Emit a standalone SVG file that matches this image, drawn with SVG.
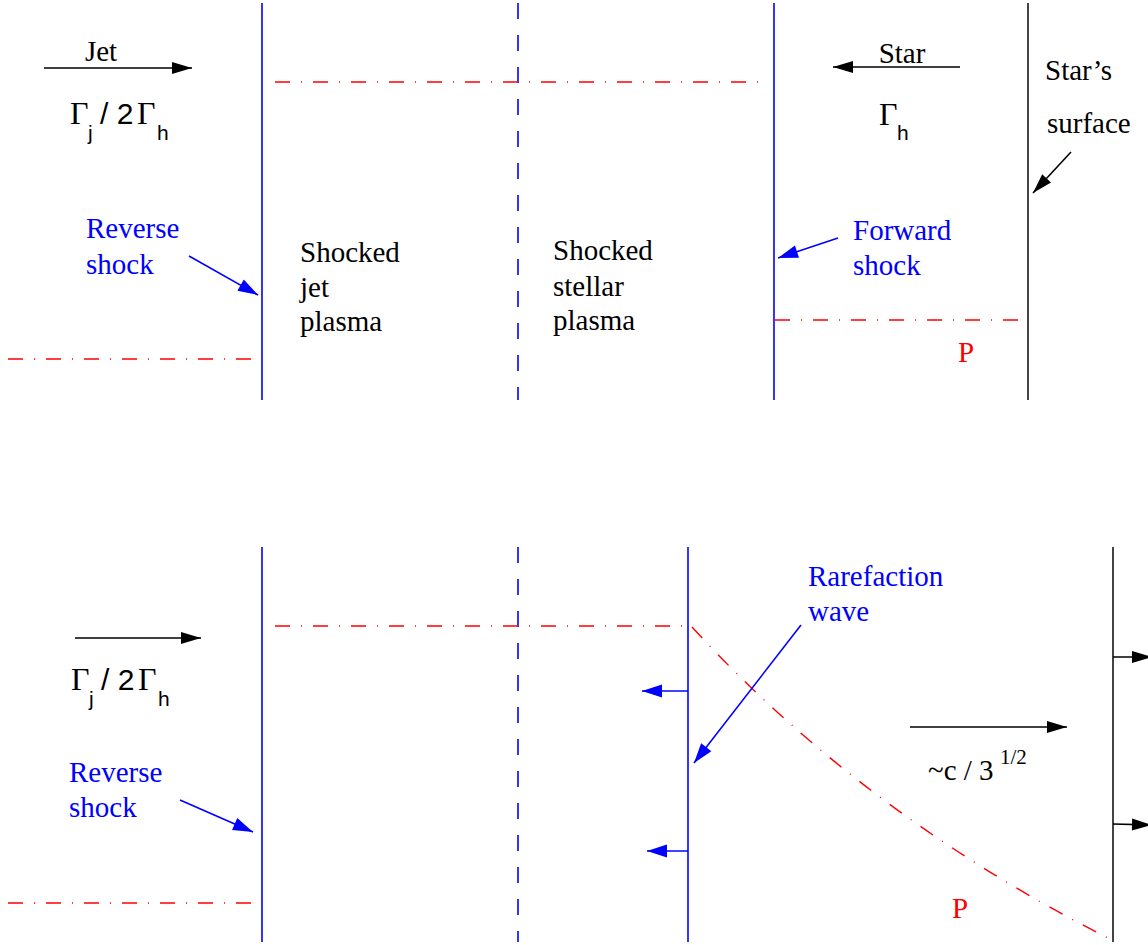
<svg xmlns="http://www.w3.org/2000/svg" width="1148" height="945" viewBox="0 0 1148 945">
<defs>
<style>
.bl{stroke:#0000ff;stroke-width:1.6;fill:none}
.bd{stroke:#0000ff;stroke-width:1.6;fill:none;stroke-dasharray:16 16}
.bk{stroke:#444444;stroke-width:2;fill:none}
.rd{stroke:#ff0000;stroke-width:1.4;fill:none;stroke-dasharray:15 11 1 11}
.ak{stroke:#000000;stroke-width:1.6;fill:none;marker-end:url(#mk)}
.ab{stroke:#0000ff;stroke-width:1.6;fill:none;marker-end:url(#mb)}
.s{font-family:"Liberation Serif","Times New Roman",Times,serif;font-size:29px}
.n{font-family:"Liberation Sans",Arial,Helvetica,sans-serif}
.g{font-size:32px}
.sub{font-size:21px}
.tb{fill:#0000ff}
.tr{fill:#ff0000}
.tk{fill:#000000}
</style>
<marker id="mk" markerUnits="userSpaceOnUse" markerWidth="22" markerHeight="16" refX="20" refY="8" orient="auto" overflow="visible"><path d="M0,2 L20,8 L0,14 z" fill="#000000"/></marker>
<marker id="mb" markerUnits="userSpaceOnUse" markerWidth="22" markerHeight="16" refX="20" refY="8" orient="auto" overflow="visible"><path d="M0,1.5 L20,8 L0,14.5 z" fill="#0000ff"/></marker>
</defs>
<g id="lines">
<line class="bl" x1="262" y1="3" x2="262" y2="400"/>
<line class="bd" x1="518" y1="3" x2="518" y2="400"/>
<line class="bl" x1="774" y1="3" x2="774" y2="400"/>
<line class="bk" x1="1028" y1="3" x2="1028" y2="400"/>
<line class="rd" x1="275" y1="82" x2="768" y2="82"/>
<line class="rd" x1="8" y1="359" x2="262" y2="359"/>
<line class="rd" x1="775" y1="320" x2="1028" y2="320"/>
<line class="bl" x1="262" y1="547" x2="262" y2="942"/>
<line class="bd" x1="518" y1="547" x2="518" y2="942"/>
<line class="bl" x1="688" y1="547" x2="688" y2="942"/>
<line class="bk" x1="1113" y1="547" x2="1113" y2="942"/>
<line class="rd" x1="275" y1="626" x2="688" y2="626"/>
<line class="rd" x1="8" y1="903" x2="262" y2="903"/>
<path class="rd" d="M692,627 Q865,816 1112,940"/>
</g>
<g id="connectors">
<line class="ak" x1="44" y1="68" x2="192" y2="68"/>
<line class="ak" x1="960" y1="67" x2="833" y2="67"/>
<line class="ak" x1="1071" y1="152" x2="1033" y2="193"/>
<line class="ab" x1="189" y1="256" x2="258" y2="295"/>
<line class="ab" x1="838" y1="238" x2="778" y2="258"/>
<line class="ak" x1="75" y1="638" x2="201" y2="638"/>
<line class="ab" x1="801" y1="625" x2="694" y2="763"/>
<line class="ab" x1="688" y1="691" x2="642" y2="691"/>
<line class="ab" x1="688" y1="851" x2="647" y2="851"/>
<line class="ak" x1="910" y1="727" x2="1067" y2="727"/>
<line class="ak" x1="1113" y1="657" x2="1152" y2="657"/>
<line class="ak" x1="1113" y1="824" x2="1152" y2="825"/>
<line class="ab" x1="180" y1="800" x2="253" y2="832"/>
</g>
<g id="jet-top">
<text class="s tk" x="101" y="61" text-anchor="middle" font-size="30">Jet</text>
<text class="s g tk" x="70" y="124">Γ</text><text class="n sub tk" x="88" y="140">j</text>
<text class="n tk" x="100" y="124" font-size="30">/ 2</text>
<text class="s g tk" x="137" y="124">Γ</text><text class="n sub tk" x="157" y="140">h</text>
</g>
<g id="star-top">
<text class="s tk" x="902" y="63" text-anchor="middle" font-size="30">Star</text>
<text class="s g tk" x="879" y="125">Γ</text><text class="n sub tk" x="897" y="140">h</text>
</g>
<g id="surface">
<text class="s tk" x="1045" y="80">Star’s</text>
<text class="s tk" x="1047" y="133">surface</text>
</g>
<g id="reverse-top">
<text class="s tb" x="86" y="238">Reverse</text>
<text class="s tb" x="86" y="274">shock</text>
</g>
<g id="shocked-jet">
<text class="s tk" x="300" y="262">Shocked</text>
<text class="s tk" x="300" y="297">jet</text>
<text class="s tk" x="300" y="331">plasma</text>
</g>
<g id="shocked-stellar">
<text class="s tk" x="553" y="260">Shocked</text>
<text class="s tk" x="553" y="296">stellar</text>
<text class="s tk" x="553" y="330">plasma</text>
</g>
<g id="forward">
<text class="s tb" x="853" y="240">Forward</text>
<text class="s tb" x="853" y="275">shock</text>
</g>
<g id="p-top"><text class="s tr" x="958" y="362">P</text></g>
<g id="jet-bottom">
<text class="s g tk" x="71" y="690">Γ</text><text class="n sub tk" x="89" y="706">j</text>
<text class="n tk" x="101" y="690" font-size="30">/ 2</text>
<text class="s g tk" x="138" y="690">Γ</text><text class="n sub tk" x="158" y="706">h</text>
</g>
<g id="rarefaction">
<text class="s tb" x="808" y="586">Rarefaction</text>
<text class="s tb" x="808" y="621">wave</text>
</g>
<g id="speed">
<text class="s tk" x="928" y="780">~c / 3</text>
<text class="s sub tk" x="1000" y="764">1/2</text>
</g>
<g id="reverse-bottom">
<text class="s tb" x="69" y="782">Reverse</text>
<text class="s tb" x="69" y="817">shock</text>
</g>
<g id="p-bottom"><text class="s tr" x="952" y="918">P</text></g>
</svg>
